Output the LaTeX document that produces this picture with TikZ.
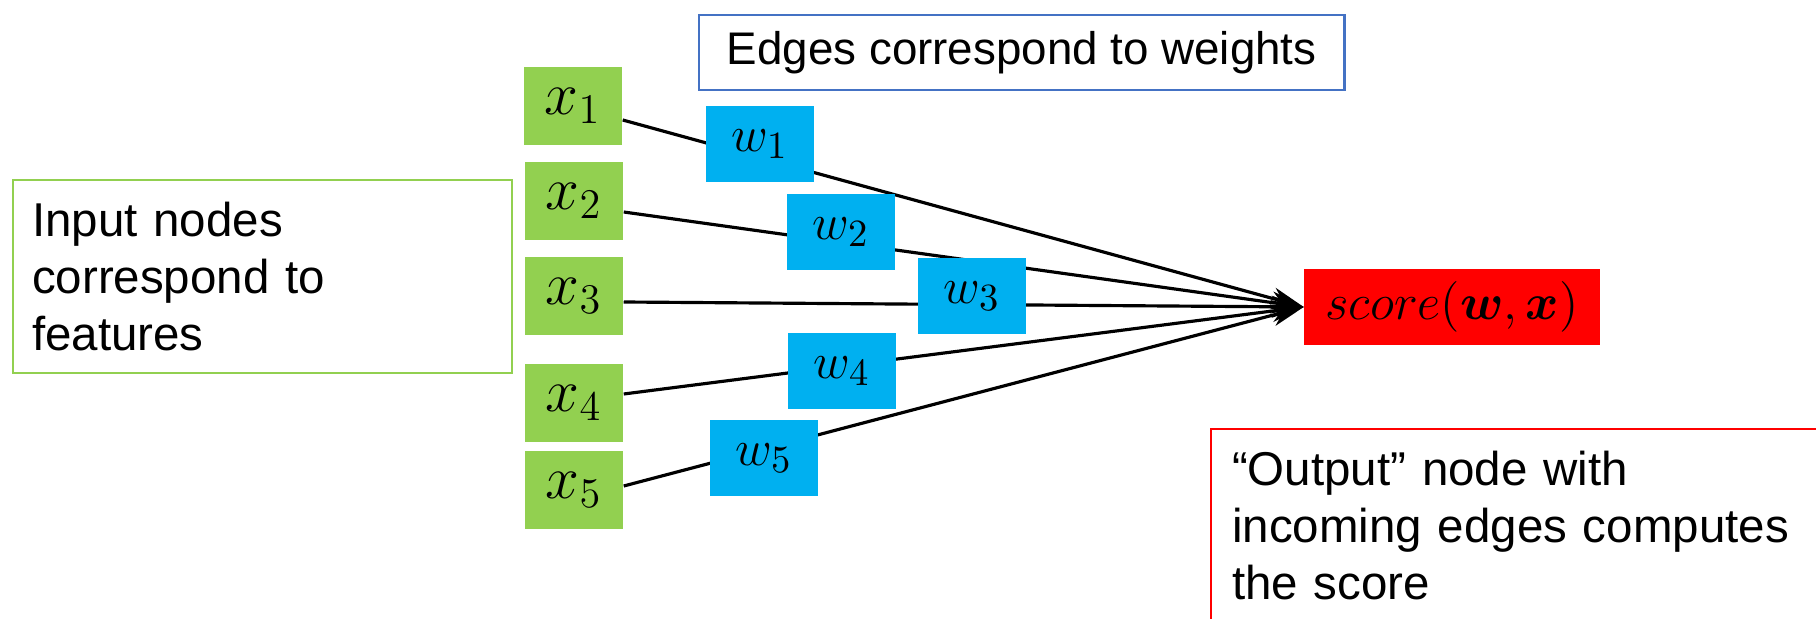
\documentclass[tikz,border=0pt]{standalone}
\usepackage{amsmath}
\usepackage{fontspec}
\setmainfont{Liberation Sans}
\usepackage{tikz}
\usetikzlibrary{arrows.meta,positioning}
\definecolor{featgreen}{HTML}{92D050}
\definecolor{weightblue}{HTML}{00B0F0}
\definecolor{edgeblue}{HTML}{4472C4}
\tikzstyle{connector} = [line width=0.9pt,-{Stealth[length=3.2mm,width=2.2mm]}]
\tikzstyle{feature} = [rectangle, fill=featgreen, minimum width=0.98cm, minimum height=0.77cm, inner sep=0pt, font=\fontsize{17}{20}\selectfont]
\tikzstyle{weight} = [rectangle, fill=weightblue, minimum width=1.08cm, minimum height=0.75cm, inner sep=0pt, font=\fontsize{15}{18}\selectfont]
\tikzstyle{note} = [rectangle, draw, line width=0.6pt, align=left, anchor=north west, font=\fontsize{13.5}{16.2}\selectfont]

\begin{document}
\begin{tikzpicture}[x=0.01cm, y=-0.01cm]
        \useasboundingbox (0,0) rectangle (1816,619);
        \clip (0,0) rectangle (1816,619);
        \node (edges-note) [note, draw=edgeblue, minimum width=6.45cm, minimum height=0.75cm, font=\fontsize{13}{16}\selectfont] at (698,14) {Edges correspond to weights};
        \node (input-note) [note, draw=featgreen, minimum width=4.99cm, minimum height=1.93cm, text width=4.61cm, inner xsep=0.19cm] at (12,179) {Input nodes\\correspond to\\features};
        \node (output-note) [note, draw=red, text width=7cm, inner xsep=0.21cm, inner ysep=0.22cm] at (1210,428) {``Output'' node with\\incoming edges computes\\the score};
        \node (x-1) [feature] at (573,106) {$x_1$};
        \node (x-2) [feature] at (574,201) {$x_2$};
        \node (x-3) [feature] at (574,296) {$x_3$};
        \node (x-4) [feature] at (574,403) {$x_4$};
        \node (x-5) [feature] at (574,490) {$x_5$};
        \node (score) [rectangle, fill=red, minimum width=2.95cm, minimum height=0.76cm, font=\fontsize{15.5}{18}\selectfont] at (1452,307) {$score(\boldsymbol{w},\boldsymbol{x})$};
        \draw [connector] ([yshift=-0.14cm]x-1.east) -- (score.west);
        \draw [connector] ([yshift=-0.11cm]x-2.east) -- (score.west);
        \draw [connector] ([yshift=-0.06cm]x-3.east) -- (score.west);
        \draw [connector] ([yshift=0.09cm]x-4.east) -- (score.west);
        \draw [connector] ([yshift=0.04cm]x-5.east) -- (score.west);
        \node (w-1) [weight] at (760,144) {$w_1$};
        \node (w-2) [weight] at (841,232) {$w_2$};
        \node (w-3) [weight] at (972,296) {$w_3$};
        \node (w-4) [weight] at (842,371) {$w_4$};
        \node (w-5) [weight] at (764,458) {$w_5$};
    \end{tikzpicture}
\end{document}
